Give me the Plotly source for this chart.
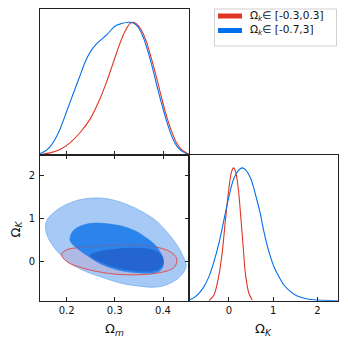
import plotly.graph_objects as go

RED = '#E03424'
BLUE = '#006FED'

# marginal of Omega_m (peak normalised to 1)
om_blue_x = [0.1447, 0.155, 0.1654, 0.1757, 0.186, 0.1965, 0.2068, 0.2172, 0.2276, 0.238, 0.2483,
             0.2587, 0.269, 0.283, 0.300, 0.314, 0.3278, 0.3382, 0.3486, 0.359, 0.3693, 0.3797,
             0.39, 0.4004, 0.4108, 0.4212, 0.4315, 0.4454, 0.4546]
om_blue_y = [0.008, 0.025, 0.058, 0.114, 0.19, 0.291, 0.393, 0.494, 0.595, 0.696, 0.772,
             0.823, 0.861, 0.904, 0.97, 0.99, 1.0, 0.995, 0.962, 0.886, 0.772, 0.633,
             0.481, 0.342, 0.215, 0.114, 0.051, 0.013, 0.0]
om_red_x = [0.1447, 0.1654, 0.186, 0.2068, 0.2276, 0.2483, 0.269, 0.283, 0.2898, 0.300, 0.3106,
            0.321, 0.3313, 0.3382, 0.3452, 0.3556, 0.366, 0.3763, 0.3867, 0.397, 0.4074, 0.4178,
            0.4282, 0.4385, 0.4546]
om_red_y = [0.0, 0.013, 0.038, 0.089, 0.165, 0.266, 0.42, 0.55, 0.62, 0.73, 0.84,
            0.93, 0.99, 1.0, 0.987, 0.938, 0.848, 0.721, 0.582, 0.43, 0.291, 0.177,
            0.089, 0.038, 0.003]

# marginal of Omega_K
ok_blue_x = [-0.90, -0.79, -0.677, -0.564, -0.451, -0.339, -0.226, -0.113, 0.0, 0.113, 0.226, 0.30,
             0.376, 0.489, 0.602, 0.715, 0.79, 0.903, 1.016, 1.129, 1.242, 1.392, 1.543, 1.768,
             1.993, 2.47]
ok_blue_y = [0.005, 0.023, 0.056, 0.106, 0.181, 0.294, 0.432, 0.608, 0.784, 0.922, 0.985, 1.0,
             0.985, 0.922, 0.796, 0.646, 0.52, 0.369, 0.256, 0.181, 0.118, 0.068, 0.035, 0.013,
             0.005, 0.0]
ok_red_x = [-0.451, -0.339, -0.226, -0.15, -0.075, 0.0, 0.06, 0.105, 0.15, 0.21, 0.264, 0.324,
            0.376, 0.451, 0.527]
ok_red_y = [0.0, 0.043, 0.194, 0.369, 0.621, 0.847, 0.972, 1.0, 0.972, 0.847, 0.646, 0.395,
            0.194, 0.056, 0.005]

# 2D contour outlines (Omega_m, Omega_K)
outer_om = [0.1565, 0.157, 0.1619, 0.1722, 0.186, 0.2068, 0.2276, 0.2483, 0.276, 0.300, 0.3278,
            0.3556, 0.3832, 0.404, 0.4212, 0.435, 0.444, 0.448, 0.445, 0.4385, 0.4315, 0.4212,
            0.4075, 0.3935, 0.375, 0.352, 0.3245, 0.2967, 0.269, 0.2415, 0.2137, 0.193, 0.1722,
            0.1605]
outer_ok = [0.75, 0.893, 1.009, 1.124, 1.24, 1.355, 1.432, 1.465, 1.465, 1.415, 1.31,
            1.162, 0.97, 0.739, 0.508, 0.277, 0.07, -0.08, -0.2, -0.30, -0.38, -0.455,
            -0.53, -0.57, -0.585, -0.56, -0.52, -0.44, -0.34, -0.23, -0.08, 0.10, 0.36,
            0.58]
red_om = [0.1896, 0.2, 0.2276, 0.283, 0.3382, 0.3797, 0.4143, 0.4282, 0.4268, 0.4178, 0.3867,
          0.3382, 0.283, 0.2345, 0.2]
red_ok = [0.17, 0.277, 0.33, 0.376, 0.393, 0.354, 0.238, 0.085, -0.069, -0.169, -0.261,
          -0.30, -0.261, -0.146, 0.007]
inner_om = [0.2068, 0.2103, 0.2207, 0.2415, 0.2622, 0.2898, 0.3174, 0.3452, 0.366, 0.3832, 0.3935,
            0.399, 0.4015, 0.3995, 0.393, 0.38, 0.362, 0.338, 0.3037, 0.269, 0.2415, 0.2207,
            0.2103]
inner_ok = [0.508, 0.662, 0.778, 0.87, 0.893, 0.87, 0.816, 0.70, 0.547, 0.393, 0.238,
            0.12, 0.0, -0.12, -0.21, -0.255, -0.265, -0.245, -0.18, -0.04, 0.15, 0.32,
            0.43]
core_om = [0.2483, 0.269, 0.3037, 0.3382, 0.366, 0.3867, 0.397, 0.4004, 0.3977, 0.3867, 0.366,
           0.3313, 0.2967, 0.269, 0.2552]
core_ok = [0.146, 0.238, 0.293, 0.316, 0.30, 0.238, 0.146, 0.007, -0.108, -0.185, -0.224,
           -0.192, -0.115, 0.007, 0.085]

om_range = [0.1447, 0.4546]
ok_range = [-0.895, 2.47]
om_ticks = [0.2, 0.3, 0.4]
ok_ticks = [0, 1, 2]
legend_labels = ['Ω<sub><i>k</i></sub>∈ [-0.3,0.3]', 'Ω<sub><i>k</i></sub>∈ [-0.7,3]']
legend_colors = [RED, BLUE]

# the page body adds an 8px margin, so the figure is 340x338 and shifted
OFF = 8
W, H = 348 - OFF, 346 - OFF


def fx(p):
    return (p - OFF) / W


def fy(p):
    return 1 - (p - OFF) / H


X0, X1, X2 = fx(40), fx(189.3), fx(338.3)
YT, YM, YB = fy(9), fy(154.6), fy(300.7)


def closed(a):
    return list(a) + [a[0]]


fig = go.Figure()

# top-left: Omega_m marginal
fig.add_trace(go.Scatter(x=om_red_x, y=om_red_y, mode='lines', line=dict(color=RED, width=1.1, shape='spline'),
                         xaxis='x', yaxis='y', showlegend=False))
fig.add_trace(go.Scatter(x=om_blue_x, y=om_blue_y, mode='lines', line=dict(color=BLUE, width=1.1, shape='spline'),
                         xaxis='x', yaxis='y', showlegend=False))

# bottom-left: 2D contours
fig.add_trace(go.Scatter(x=closed(outer_om), y=closed(outer_ok), mode='lines', fill='toself',
                         fillcolor='#a6c9f5', line=dict(color='#78aef2', width=0.8, shape='spline'),
                         xaxis='x2', yaxis='y2', showlegend=False))
fig.add_trace(go.Scatter(x=closed(red_om), y=closed(red_ok), mode='lines', fill='toself',
                         fillcolor='#b0b9e3', line=dict(color='#dc6a72', width=1, shape='spline'),
                         xaxis='x2', yaxis='y2', showlegend=False))
fig.add_trace(go.Scatter(x=closed(inner_om), y=closed(inner_ok), mode='lines', fill='toself',
                         fillcolor='#2b83ec', line=dict(color='#2b83ec', width=0.5, shape='spline'),
                         xaxis='x2', yaxis='y2', showlegend=False))
fig.add_trace(go.Scatter(x=closed(core_om), y=closed(core_ok), mode='lines', fill='toself',
                         fillcolor='#2465cf', line=dict(color='#2465cf', width=0.5, shape='spline'),
                         xaxis='x2', yaxis='y2', showlegend=False))
fig.add_trace(go.Scatter(x=closed(red_om), y=closed(red_ok), mode='lines',
                         line=dict(color='rgba(224,52,36,0.3)', width=1, shape='spline'),
                         xaxis='x2', yaxis='y2', showlegend=False))

# bottom-right: Omega_K marginal
fig.add_trace(go.Scatter(x=ok_red_x, y=ok_red_y, mode='lines', line=dict(color=RED, width=1.1, shape='spline'),
                         xaxis='x3', yaxis='y3', showlegend=False))
fig.add_trace(go.Scatter(x=ok_blue_x, y=ok_blue_y, mode='lines', line=dict(color=BLUE, width=1.1, shape='spline'),
                         xaxis='x3', yaxis='y3', showlegend=False))

axis_style = dict(showgrid=False, zeroline=False, showline=True, linecolor='#222', linewidth=1,
                  tickcolor='#222', ticklen=4, tickwidth=1, tickfont=dict(size=10, color='#111'),
                  automargin=False)

fig.update_layout(
    width=W, height=H, margin=dict(l=0, r=0, t=0, b=0, autoexpand=False),
    plot_bgcolor='white', paper_bgcolor='white',
    font=dict(family='DejaVu Sans', color='#111'),
    xaxis=dict(domain=[X0, X1], anchor='y', range=om_range, tickvals=om_ticks, ticks='inside',
               showticklabels=False, mirror=True, **axis_style),
    yaxis=dict(domain=[YM, YT], anchor='x', range=[0, 1.1], ticks='', showticklabels=False,
               mirror=True, **axis_style),
    xaxis2=dict(domain=[X0, X1], anchor='y2', range=om_range, tickvals=om_ticks, ticks='inside',
                mirror='ticks', ticklabelstandoff=0, **axis_style),
    yaxis2=dict(domain=[YB, YM], anchor='x2', range=ok_range, tickvals=ok_ticks, ticks='inside',
                mirror='ticks', ticklabelstandoff=2, **axis_style),
    xaxis3=dict(domain=[X1, X2], anchor='y3', range=ok_range, tickvals=ok_ticks, ticks='inside',
                mirror=True, ticklabelstandoff=0, **axis_style),
    yaxis3=dict(domain=[YB, YM], anchor='x3', range=[0, 1.1], ticks='', showticklabels=False,
                mirror=True, **axis_style),
)

# axis labels
fig.add_annotation(x=(X0 + X1) / 2, y=fy(329), xref='paper', yref='paper', showarrow=False,
                   xanchor='center', yanchor='middle', text='Ω<sub><i>m</i></sub>', font=dict(size=13))
fig.add_annotation(x=(X1 + X2) / 2, y=fy(329), xref='paper', yref='paper', showarrow=False,
                   xanchor='center', yanchor='middle', text='Ω<sub><i>K</i></sub>', font=dict(size=13))
fig.add_annotation(x=fx(15.5), y=fy(229), xref='paper', yref='paper', showarrow=False,
                   xanchor='center', yanchor='middle', text='Ω<sub><i>K</i></sub>', textangle=-90,
                   borderpad=0, font=dict(size=13))

# legend box drawn by hand (matplotlib style)
fig.add_shape(type='rect', xref='paper', yref='paper', x0=fx(214.5), x1=fx(336.5), y0=fy(46), y1=fy(9),
              line=dict(color='#d0d0d0', width=1), fillcolor='rgba(255,255,255,0.8)')
for i, (lab, col) in enumerate(zip(legend_labels, legend_colors)):
    yc = 16 + i * 14.5
    fig.add_shape(type='rect', xref='paper', yref='paper', x0=fx(218), x1=fx(242),
                  y0=fy(yc + 2.5), y1=fy(yc - 2.5), line=dict(width=0), fillcolor=col)
    fig.add_annotation(x=fx(248), y=fy(yc), xref='paper', yref='paper', showarrow=False,
                       xanchor='left', yanchor='middle', text=lab, font=dict(size=10.5))

fig.write_html("out.html")
